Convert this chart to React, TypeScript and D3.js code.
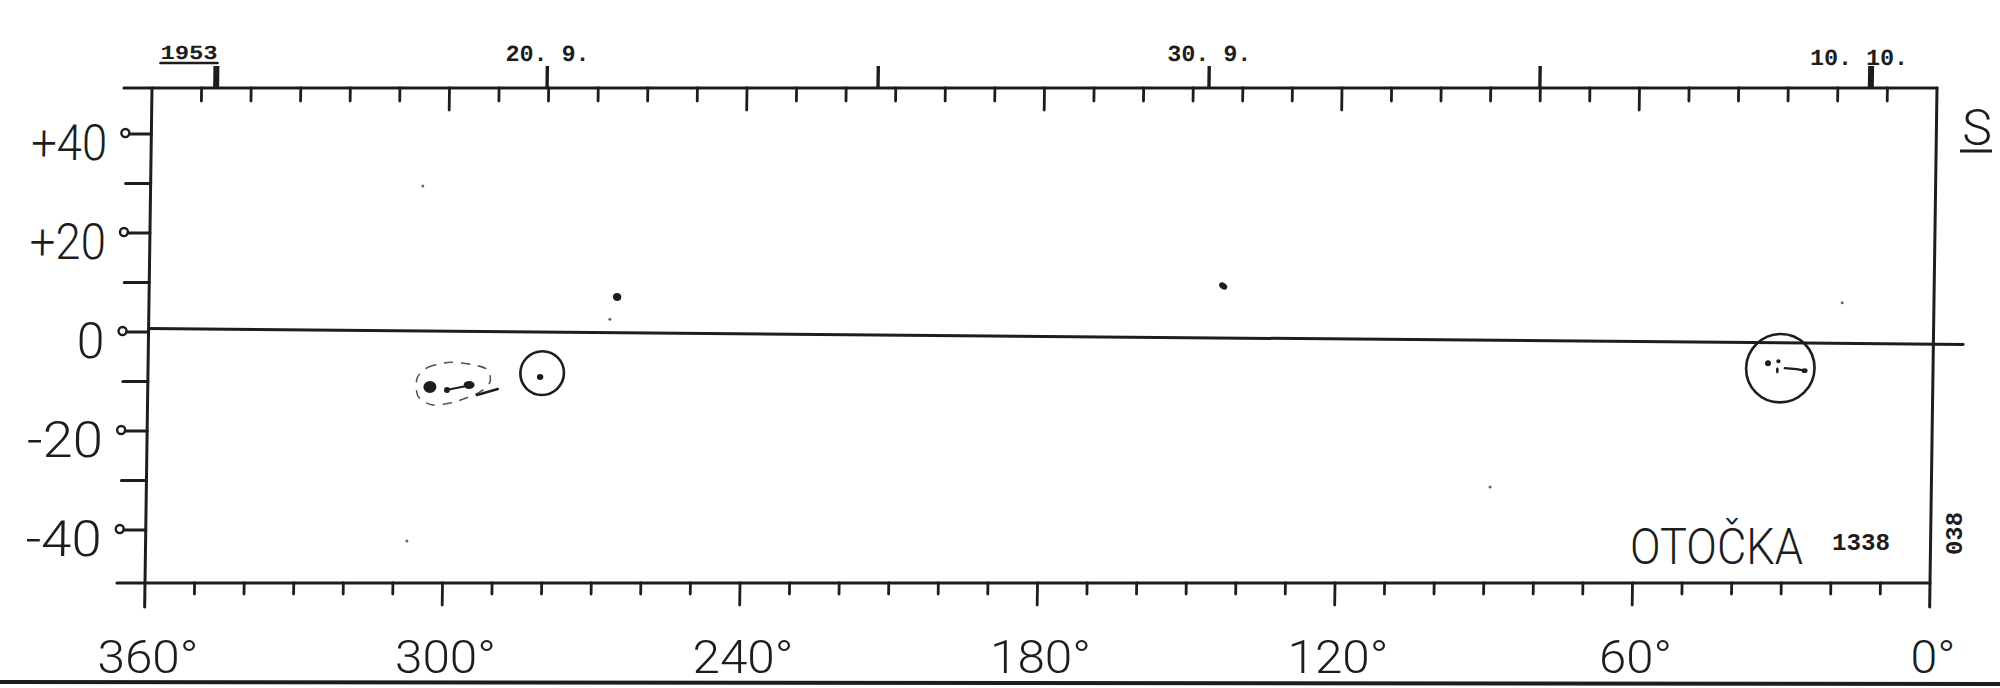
import React from 'react';
import * as d3 from 'd3';

// ---------- data ----------
const lonTicks = d3.range(10, 360, 10);
const lonLabels = [360, 300, 240, 180, 120, 60, 0];
const latTicks = [40, 30, 20, 10, 0, -10, -20, -30, -40];
const latLabels = [
  { v: 40, t: '+40' },
  { v: 20, t: '+20' },
  { v: 0, t: '0' },
  { v: -20, t: '-20' },
  { v: -40, t: '-40' },
];
const dateTicks = [
  { date: Date.UTC(1953, 8, 15), label: '1953', bold: true },
  { date: Date.UTC(1953, 8, 20), label: '20. 9.', bold: false },
  { date: Date.UTC(1953, 8, 25), label: '', bold: false },
  { date: Date.UTC(1953, 8, 30), label: '30. 9.', bold: false },
  { date: Date.UTC(1953, 9, 5), label: '', bold: false },
  { date: Date.UTC(1953, 9, 10), label: '10. 10.', bold: true },
];
const equatorLine = [
  { lon: 360, lat: 0.7 },
  { lon: -6, lat: -2.5 },
];
// umbrae of the group near L = 300
const groupUmbrae = [
  { lon: 303.1, lat: -11.1, rx: 6.5, ry: 6 },
  { lon: 299.65, lat: -11.7, rx: 3, ry: 3 },
  { lon: 295.2, lat: -10.7, rx: 5.5, ry: 4 },
];
const groupBridge = [
  { lon: 299.3, lat: -11.6 },
  { lon: 296.2, lat: -11.0 },
];
const groupPenumbra = [
  { lon: 305.7, lat: -9.3 },
  { lon: 303.5, lat: -7.1 },
  { lon: 299.0, lat: -6.1 },
  { lon: 294.0, lat: -6.7 },
  { lon: 291.4, lat: -7.7 },
  { lon: 291.0, lat: -10.1 },
  { lon: 293.0, lat: -12.1 },
  { lon: 298.0, lat: -14.1 },
  { lon: 302.7, lat: -14.7 },
  { lon: 305.5, lat: -12.9 },
];
const groupTail = [
  { lon: 293.6, lat: -12.7 },
  { lon: 289.4, lat: -11.5 },
];
// circled regions
const circles = [
  { lon: 280.5, lat: -8.3, rDeg: 4.4 },
  { lon: 30.8, lat: -7.3, rDeg: 6.9 },
];
const singleSpots = [
  { lon: 280.9, lat: -9.1, rx: 3.2, ry: 3, rot: 0 },
  { lon: 265.6, lat: 7.1, rx: 4.2, ry: 4, rot: 0 },
  { lon: 143.4, lat: 9.3, rx: 4.5, ry: 3, rot: 35 },
  { lon: 33.3, lat: -6.3, rx: 3, ry: 3, rot: 0 },
  { lon: 31.2, lat: -5.9, rx: 2.2, ry: 2, rot: 0 },
  { lon: 31.4, lat: -7.7, rx: 1.4, ry: 3, rot: 0 },
  { lon: 25.9, lat: -7.8, rx: 3, ry: 2.4, rot: 0 },
];
const spotTrail = [
  { lon: 29.9, lat: -7.3 },
  { lon: 27.5, lat: -7.5 },
  { lon: 25.9, lat: -7.8 },
];
const specks = [
  { lon: 89.0, lat: -31.3 },
  { lon: 18.5, lat: 5.9 },
  { lon: 307.3, lat: -42.2 },
  { lon: 305.1, lat: 29.5 },
  { lon: 267.0, lat: 2.6 },
];

const SANS = 'Roboto, "DejaVu Sans Condensed", sans-serif';
const MONO = '"Liberation Mono", "DejaVu Sans Mono", monospace';
const INK = '#1d1d1d';

export default function App() {
  const x = d3.scaleLinear().domain([360, 0]).range([145, 1930]);
  const y = d3.scaleLinear().domain([-50.7, 49.3]).range([583, 88]);
  const t = d3
    .scaleUtc()
    .domain([new Date(Date.UTC(1953, 8, 14, 0, 45)), new Date(Date.UTC(1953, 9, 11, 0, 0))])
    .range(x.range());

  const xL = x(360);
  const xR = x(0);
  const yT = y.range()[1];
  const yB = y.range()[0];
  const line = d3
    .line<{ lon: number; lat: number }>()
    .x((d) => x(d.lon))
    .y((d) => y(d.lat));
  const closed = d3
    .line<{ lon: number; lat: number }>()
    .x((d) => x(d.lon))
    .y((d) => y(d.lat))
    .curve(d3.curveCardinalClosed.tension(0.2));
  const pxPerDeg = Math.abs(x(1) - x(0));

  const skew = `translate(0,${yB}) skewX(-0.81) translate(0,${-yB})`;

  return (
    <svg
      width={2000}
      height={688}
      viewBox="0 0 2000 688"
      style={{ position: 'absolute', left: 0, top: 0, display: 'block', background: '#fff' }}
    >
      <rect x={0} y={0} width={2000} height={688} fill="#fff" />
      <g transform={skew} stroke={INK} fill="none" strokeLinecap="round">
        {/* frame */}
        <line x1={xL - 28} y1={yT} x2={xR} y2={yT} strokeWidth={3.2} />
        <line x1={xL - 28} y1={yB} x2={xR} y2={yB} strokeWidth={3.2} />
        <line x1={xL} y1={yT} x2={xL} y2={yB + 24} strokeWidth={3} />
        <line x1={xR} y1={yT} x2={xR} y2={yB + 24} strokeWidth={3} />

        {/* bottom longitude ticks */}
        {lonTicks.map((l) => (
          <line
            key={'b' + l}
            x1={x(l)}
            x2={x(l)}
            y1={yB}
            y2={yB + (l % 60 === 0 ? 22 : 11)}
            strokeWidth={2.8}
          />
        ))}
        {/* top longitude ticks */}
        {lonTicks.map((l) => (
          <line
            key={'t' + l}
            x1={x(l)}
            x2={x(l)}
            y1={yT}
            y2={yT + (l % 60 === 0 ? 22 : 13)}
            strokeWidth={2.8}
          />
        ))}
        {/* date ticks */}
        {dateTicks.map((d) => (
          <line
            key={'d' + d.date}
            x1={t(new Date(d.date))}
            x2={t(new Date(d.date))}
            y1={yT}
            y2={yT - 22}
            strokeWidth={d.bold ? 6 : 3.4}
            strokeLinecap="butt"
          />
        ))}
        {/* latitude ticks */}
        {latTicks.map((v) => {
          const lab = v % 20 === 0;
          return (
            <g key={'l' + v}>
              <line x1={xL - (lab ? 22 : 25)} x2={xL} y1={y(v)} y2={y(v)} strokeWidth={3} />
              {lab && <circle cx={xL - 26} cy={y(v) - 1} r={4} strokeWidth={2.4} />}
            </g>
          );
        })}

        {/* equator */}
        <path d={line(equatorLine) || ''} strokeWidth={3} />

        {/* spot group with penumbra */}
        <path
          d={closed(groupPenumbra) || ''}
          strokeWidth={1.6}
          stroke="#555"
          strokeDasharray="8 9"
        />
        <path d={line(groupTail) || ''} strokeWidth={2.6} />
        <path d={line(groupBridge) || ''} strokeWidth={2} />
        {groupUmbrae.map((s, i) => (
          <ellipse key={'u' + i} cx={x(s.lon)} cy={y(s.lat)} rx={s.rx} ry={s.ry} fill={INK} stroke="none" />
        ))}

        {circles.map((c, i) => (
          <circle key={'c' + i} cx={x(c.lon)} cy={y(c.lat)} r={c.rDeg * pxPerDeg} strokeWidth={2.6} />
        ))}
        <path d={line(spotTrail) || ''} strokeWidth={2.4} />
        {singleSpots.map((s, i) => (
          <ellipse
            key={'s' + i}
            cx={x(s.lon)}
            cy={y(s.lat)}
            rx={s.rx}
            ry={s.ry}
            transform={`rotate(${s.rot},${x(s.lon)},${y(s.lat)})`}
            fill={INK}
            stroke="none"
          />
        ))}
        {specks.map((s, i) => (
          <circle key={'k' + i} cx={x(s.lon)} cy={y(s.lat)} r={1.5} fill="#666" stroke="none" />
        ))}

        {/* latitude labels */}
        {latLabels.map((l) => (
          <text
            key={'ll' + l.v}
            x={xL - 44}
            y={y(l.v) + 26}
            textAnchor="end"
            fontFamily={SANS}
            fontWeight={300}
            fontSize={50}
            fill={INK}
            stroke="none"
            {...(l.t.length > 1 ? { textLength: 76, lengthAdjust: 'spacingAndGlyphs' } : {})}
          >
            {l.t}
          </text>
        ))}

        {/* date labels */}
        {dateTicks
          .filter((d) => d.label)
          .map((d) => {
            const tx = t(new Date(d.date));
            if (d.label === '1953') {
              return (
                <g key={'dl' + d.date}>
                  <text
                    x={tx + 1}
                    y={59}
                    textAnchor="end"
                    fontFamily={MONO}
                    fontWeight="bold"
                    fontSize={20}
                    fill={INK}
                    stroke="none"
                    textLength={57}
                    lengthAdjust="spacingAndGlyphs"
                  >
                    {d.label}
                  </text>
                  <line x1={tx - 56} x2={tx + 1} y1={63} y2={63} strokeWidth={2.6} />
                </g>
              );
            }
            const dx = d.label.length === 7 ? -12 : 0;
            return (
              <text
                key={'dl' + d.date}
                x={tx + dx}
                y={d.label.length === 7 ? 65 : 61}
                textAnchor="middle"
                fontFamily={MONO}
                fontWeight="bold"
                fontSize={23}
                fill={INK}
                stroke="none"
                textLength={d.label.length * 14}
                lengthAdjust="spacingAndGlyphs"
              >
                {d.label}
              </text>
            );
          })}
      </g>

      {/* longitude labels */}
      {lonLabels.map((l) => {
        const s = `${l}°`;
        const digits = String(l).length;
        return (
          <text
            key={'xl' + l}
            x={x(l) + 3}
            y={673}
            textAnchor="middle"
            fontFamily={SANS}
            fontWeight={300}
            fontSize={47}
            fill={INK}
            textLength={digits * 28 + 17}
            lengthAdjust="spacingAndGlyphs"
          >
            {s}
          </text>
        );
      })}

      {/* annotations */}
      <text x={1977} y={145} textAnchor="middle" fontFamily={SANS} fontWeight={300} fontSize={50} fill={INK}>
        S
      </text>
      <line x1={1960} x2={1992} y1={151} y2={151} stroke={INK} strokeWidth={3} />

      <text
        x={1630}
        y={564}
        fontFamily={SANS}
        fontWeight={300}
        fontSize={50}
        fill={INK}
        textLength={173}
        lengthAdjust="spacingAndGlyphs"
      >
        OTOČKA
      </text>
      <text
        x={1832}
        y={550}
        fontFamily={MONO}
        fontWeight="bold"
        fontSize={24}
        fill={INK}
        textLength={58}
        lengthAdjust="spacingAndGlyphs"
      >
        1338
      </text>
      <text
        transform="translate(1962,555) rotate(-90)"
        fontFamily={MONO}
        fontWeight="bold"
        fontSize={24}
        fill={INK}
        textLength={43}
        lengthAdjust="spacingAndGlyphs"
      >
        038
      </text>

      {/* bottom rule of the sheet */}
      <line x1={0} y1={682} x2={2000} y2={684} stroke={INK} strokeWidth={4} />
    </svg>
  );
}
